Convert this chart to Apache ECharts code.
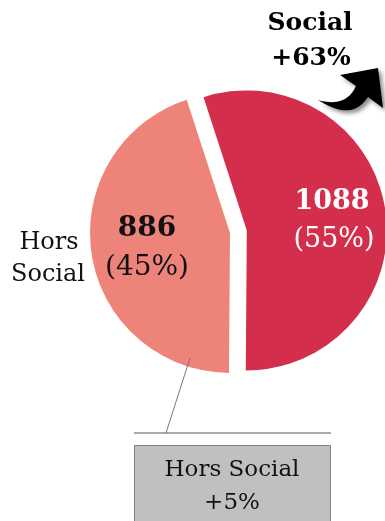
<!DOCTYPE html>
<html>
<head>
<meta charset="utf-8">
<script src="https://cdn.jsdelivr.net/npm/echarts@6/dist/echarts.min.js"></script>
<style>
  html, body { margin: 0; padding: 0; background: #fff; }
  #main { width: 385px; height: 521px; }
</style>
</head>
<body>
<div id="main"></div>
<script>
// données
var names = ['Social', 'Hors Social'];
var values = [1088, 886];
var colors = ['#d42e4d', '#ee837a'];
var growth = ['+63%', '+5%'];

var total = values[0] + values[1];
var pct = values.map(function (v) { return Math.round(v / total * 100) + '%'; });

var serif = '"DejaVu Serif", Georgia, serif';

// courbe quadratique -> liste de points (pour la flèche)
function quad(p0, c, p1, n) {
  var pts = [];
  for (var i = 0; i <= n; i++) {
    var t = i / n, u = 1 - t;
    pts.push([u * u * p0[0] + 2 * u * t * c[0] + t * t * p1[0],
              u * u * p0[1] + 2 * u * t * c[1] + t * t * p1[1]]);
  }
  return pts;
}
var arrowPts = quad([318, 100], [346, 108], [356, 86], 12)
  .concat([[340, 75], [378, 68], [383, 108]])
  .concat(quad([368, 97], [352, 122], [318, 100], 12));

var chart = echarts.init(document.getElementById('main'));

var option = {
  animation: false,
  series: [{
    type: 'pie',
    center: [230, 233],
    radius: 140,
    startAngle: 108,
    clockwise: true,
    selectedMode: 'single',
    selectedOffset: 17,
    label: { show: false },
    labelLine: { show: false },
    emphasis: { disabled: true },
    data: values.map(function (v, i) {
      return { name: names[i], value: v, selected: i === 0, itemStyle: { color: colors[i] } };
    })
  }],
  graphic: [
    // valeurs dans les parts
    { type: 'text', z: 10, style: { text: String(values[0]), x: 332, y: 202, fill: '#fff', font: 'bold 27px ' + serif, textAlign: 'center', textVerticalAlign: 'middle' } },
    { type: 'text', z: 10, style: { text: '(' + pct[0] + ')', x: 334, y: 240, fill: '#fff', font: '27px ' + serif, textAlign: 'center', textVerticalAlign: 'middle' } },
    { type: 'text', z: 10, style: { text: String(values[1]), x: 147, y: 229, fill: '#111', font: 'bold 28px ' + serif, textAlign: 'center', textVerticalAlign: 'middle' } },
    { type: 'text', z: 10, style: { text: '(' + pct[1] + ')', x: 147, y: 268, fill: '#111', font: '28px ' + serif, textAlign: 'center', textVerticalAlign: 'middle' } },
    // libellé gauche
    { type: 'text', style: { text: 'Hors', x: 49, y: 243, fill: '#111', font: '24px ' + serif, textAlign: 'center', textVerticalAlign: 'middle' } },
    { type: 'text', style: { text: 'Social', x: 48, y: 275, fill: '#111', font: '24px ' + serif, textAlign: 'center', textVerticalAlign: 'middle' } },
    // titre Social
    { type: 'text', style: { text: names[0], x: 310, y: 23, fill: '#000', font: 'bold 25px ' + serif, textAlign: 'center', textVerticalAlign: 'middle' } },
    { type: 'text', style: { text: growth[0], x: 311, y: 58, fill: '#000', font: 'bold 25px ' + serif, textAlign: 'center', textVerticalAlign: 'middle' } },
    // flèche
    {
      type: 'polygon', z: 10,
      shape: { points: arrowPts },
      style: { fill: '#000', shadowBlur: 4, shadowOffsetX: 3, shadowOffsetY: 3, shadowColor: 'rgba(0,0,0,0.45)' }
    },
    // trait de rappel + encadré
    { type: 'line', z: 10, shape: { x1: 190, y1: 358, x2: 166, y2: 433 }, style: { stroke: '#777', lineWidth: 1 } },
    { type: 'line', shape: { x1: 134, y1: 433, x2: 331, y2: 433 }, style: { stroke: '#aaa', lineWidth: 2 } },
    { type: 'rect', shape: { x: 134.5, y: 445.5, width: 196, height: 90 }, style: { fill: '#c0c0c0', stroke: '#808080', lineWidth: 1 } },
    { type: 'text', style: { text: names[1], x: 232, y: 470, fill: '#111', font: '23px ' + serif, textAlign: 'center', textVerticalAlign: 'middle' } },
    { type: 'text', style: { text: growth[1], x: 232, y: 503, fill: '#111', font: '23px ' + serif, textAlign: 'center', textVerticalAlign: 'middle' } }
  ]
};
chart.setOption(option);
</script>
</body>
</html>
